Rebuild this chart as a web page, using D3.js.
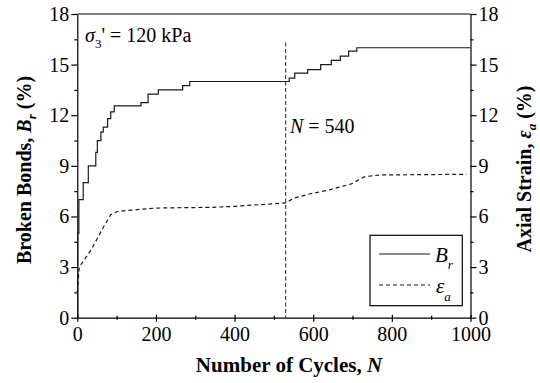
<!DOCTYPE html>
<html lang="en">
<head>
  <meta charset="UTF-8">
  <title>Broken bonds and axial strain</title>
  <script src="https://d3js.org/d3.v7.min.js"></script>
  <style>
    body {margin: 0; padding: 0; background: #fff;}
    svg {display: block;}
    .axis path, .axis line {stroke: #000; stroke-width: 1.2;}
  </style>
</head>
<body>
  <div id="chart"></div>
  <script>
    // broken bonds (step curve), cycles where the value changes
    const brCycles = [0, 1, 4, 15, 28, 47, 51, 60, 66, 77, 85, 94, 162, 180, 206, 268, 286,
                      539, 553, 586, 619, 646, 669, 690, 711, 1000];
    const brValues = [0, 5.0, 7.0, 8.0, 9.0, 9.8, 10.5, 11.0, 11.3, 11.8, 12.2, 12.55, 12.75, 13.25, 13.5, 13.75, 14.0,
                      14.2, 14.5, 14.7, 15.0, 15.25, 15.5, 15.8, 16.0, 16.0];
    // axial strain
    const strainCycles = [0, 5, 36, 66, 85, 100, 125, 200, 340, 400, 450, 530, 550, 590, 640, 697, 731, 770, 990];
    const strainValues = [1.5, 3.0, 4.05, 5.35, 6.1, 6.28, 6.35, 6.5, 6.54, 6.6, 6.68, 6.8, 7.08, 7.33, 7.57, 7.93, 8.36, 8.46, 8.5];

    const xMajor = [0, 200, 400, 600, 800, 1000];
    const xMinor = [100, 300, 500, 700, 900];
    const yMajor = [0, 3, 6, 9, 12, 15, 18];
    const yMinor = [1.5, 4.5, 7.5, 10.5, 13.5, 16.5];
    const markerN = 530;

    const width = 540, height = 383;
    const plot = {left: 77.3, right: 470.5, top: 14, bottom: 317.7};
    const serif = '"Liberation Serif"';

    const svg = d3.select("#chart").append("svg")
      .attr("width", width).attr("height", height);

    const x = d3.scaleLinear().domain([0, 1000]).range([plot.left, plot.right]);
    const y = d3.scaleLinear().domain([0, 18]).range([plot.bottom, plot.top]);

    // d3 axes put a sans-serif font on the group, replace it
    function styleAxis(g) {
      g.attr("font-family", null).attr("font-size", null);
      g.selectAll("text").style("font-family", serif).style("font-size", "20px").style("fill", "#000");
    }
    function addText(sel, size) {
      return sel.append("text").style("font-family", serif).style("font-size", size + "px").style("fill", "#000");
    }

    // top frame line
    svg.append("line")
      .attr("x1", plot.left).attr("x2", plot.right)
      .attr("y1", plot.top).attr("y2", plot.top)
      .attr("stroke", "#000").attr("stroke-width", 1.2);

    // bottom axis: ticks crossing the axis line
    const xAxisG = svg.append("g").attr("class", "axis")
      .attr("transform", `translate(0,${plot.bottom})`)
      .call(d3.axisBottom(x).tickValues(xMajor).tickFormat(d3.format("d"))
        .tickSize(4).tickPadding(5).tickSizeOuter(0))
      .call(styleAxis);
    xAxisG.selectAll(".tick line").attr("y1", -3);
    const xMinorG = svg.append("g").attr("class", "axis")
      .attr("transform", `translate(0,${plot.bottom})`)
      .call(d3.axisBottom(x).tickValues(xMinor).tickSize(2).tickFormat("").tickSizeOuter(0));
    xMinorG.selectAll(".tick line").attr("y1", -2);
    xMinorG.select(".domain").remove();

    // left axis
    svg.append("g").attr("class", "axis")
      .attr("transform", `translate(${plot.left},0)`)
      .call(d3.axisLeft(y).tickValues(yMajor).tickSize(6).tickPadding(2).tickSizeOuter(0))
      .call(styleAxis);
    svg.append("g").attr("class", "axis")
      .attr("transform", `translate(${plot.left},0)`)
      .call(d3.axisLeft(y).tickValues(yMinor).tickSize(3).tickFormat("").tickSizeOuter(0))
      .select(".domain").remove();

    // right axis (same 0-18 range for axial strain)
    svg.append("g").attr("class", "axis")
      .attr("transform", `translate(${plot.right},0)`)
      .call(d3.axisRight(y).tickValues(yMajor).tickSize(6).tickPadding(2).tickSizeOuter(0))
      .call(styleAxis);
    svg.append("g").attr("class", "axis")
      .attr("transform", `translate(${plot.right},0)`)
      .call(d3.axisRight(y).tickValues(yMinor).tickSize(3).tickFormat("").tickSizeOuter(0))
      .select(".domain").remove();

    // N = 540 marker
    svg.append("line")
      .attr("x1", x(markerN)).attr("x2", x(markerN))
      .attr("y1", 42.5).attr("y2", plot.bottom)
      .attr("stroke", "#222").attr("stroke-width", 1)
      .attr("stroke-dasharray", "4,2.5");

    const brData = brCycles.map((n, i) => [n, brValues[i]]);
    const strainData = strainCycles.map((n, i) => [n, strainValues[i]]);

    svg.append("path").datum(brData)
      .attr("fill", "none").attr("stroke", "#1a1a1a").attr("stroke-width", 1.2)
      .attr("d", d3.line().x(d => x(d[0])).y(d => y(d[1])).curve(d3.curveStepAfter));

    svg.append("path").datum(strainData)
      .attr("fill", "none").attr("stroke", "#1a1a1a").attr("stroke-width", 1.2)
      .attr("stroke-dasharray", "4,3")
      .attr("d", d3.line().x(d => x(d[0])).y(d => y(d[1])));

    // annotations
    const sig = addText(svg, 20).attr("x", 85).attr("y", 41.7);
    sig.append("tspan").style("font-style", "italic").text("σ");
    sig.append("tspan").style("font-size", "13px").attr("dy", 6).text("3");
    sig.append("tspan").attr("dy", -6).text("' = 120 kPa");

    const nLab = addText(svg, 20).attr("x", 290).attr("y", 133.3);
    nLab.append("tspan").style("font-style", "italic").text("N");
    nLab.append("tspan").text(" = 540");

    // legend
    svg.append("rect")
      .attr("x", 370).attr("y", 235.3).attr("width", 92.3).attr("height", 70.4)
      .attr("fill", "#fff").attr("stroke", "#000").attr("stroke-width", 1.2);
    svg.append("line").attr("x1", 379).attr("x2", 430).attr("y1", 254).attr("y2", 254)
      .attr("stroke", "#1a1a1a").attr("stroke-width", 1.2);
    svg.append("line").attr("x1", 379).attr("x2", 430).attr("y1", 285).attr("y2", 285)
      .attr("stroke", "#1a1a1a").attr("stroke-width", 1.2).attr("stroke-dasharray", "4,3");
    const lb = addText(svg, 21).attr("x", 435).attr("y", 261.7).style("font-style", "italic");
    lb.append("tspan").text("B");
    lb.append("tspan").style("font-size", "13px").attr("dy", 7).text("r");
    const le = addText(svg, 21).attr("x", 436).attr("y", 292.5).style("font-style", "italic");
    le.append("tspan").text("ε");
    le.append("tspan").style("font-size", "13px").attr("dy", 8).text("a");

    // axis titles
    const xt = addText(svg, 21).attr("x", 289).attr("y", 372)
      .attr("text-anchor", "middle").style("font-weight", "bold");
    xt.append("tspan").text("Number of Cycles, ");
    xt.append("tspan").style("font-style", "italic").text("N");

    const yl = addText(svg, 20)
      .attr("transform", `translate(31,170) rotate(-90)`)
      .attr("text-anchor", "middle").style("font-weight", "bold");
    yl.append("tspan").text("Broken Bonds, ");
    yl.append("tspan").style("font-style", "italic").text("B");
    yl.append("tspan").style("font-style", "italic").style("font-size", "13px").attr("dy", 5).text("r");
    yl.append("tspan").attr("dy", -5).text(" (%)");

    const yr = addText(svg, 20)
      .attr("transform", `translate(531,169) rotate(-90)`)
      .attr("text-anchor", "middle").style("font-weight", "bold");
    yr.append("tspan").text("Axial Strain, ");
    yr.append("tspan").style("font-style", "italic").text("ε");
    yr.append("tspan").style("font-style", "italic").style("font-size", "13px").attr("dy", 5).text("a");
    yr.append("tspan").attr("dy", -5).text(" (%)");
  </script>
</body>
</html>
